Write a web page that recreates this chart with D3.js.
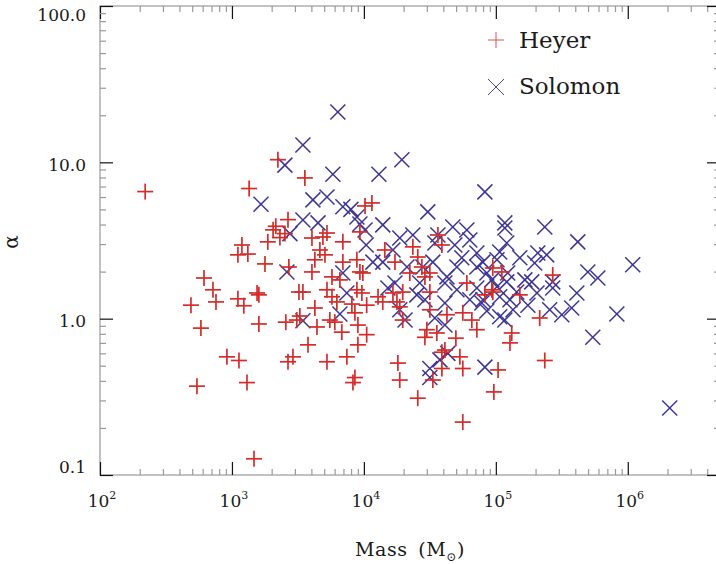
<!DOCTYPE html>
<html>
<head>
<meta charset="utf-8">
<script src="https://cdnjs.cloudflare.com/ajax/libs/d3/7.8.5/d3.min.js"></script>
<style>
body{margin:0;background:#fff;}
text{font-family:"DejaVu Serif",serif;fill:#1a1a1a;}
</style>
</head>
<body>
<script>
// values
let heyerMass = [220,2230,1350,2660,2150,2050,2520,1870,2310,1190,1110,1320,1780,2700,614,718,757,489,1110,1230,
    1550,1600,1600,582,2560,3100,3220,916,1130,2660,2900,543,1300,1470,3570,10200,11500,9330,4040,5250,
    4890,6930,4640,5070,4250,6930,8850,9330,9820,4040,5730,6580,3450,5250,5730,8850,9660,10500,12800,13900,
    16600,17800,19700,14400,17200,23500,25600,27500,29000,31600,36400,39000,22300,31600,31600,42600,60300,56200,94800,4250,
    3270,8550,18700,6240,8110,4410,5520,6020,6800,9010,10500,9010,3770,5250,7430,8550,8260,18100,18700,25600,
    56200,19700,65800,71800,30000,35700,29000,49800,39000,41100,53400,39000,56200,33300,96600,104000,94800,111000,270000,93300,
    152000,82600,215000,132000,128000,235000],
    heyerAlpha = [6.5,10.4,6.8,4.3,3.9,3.7,3.5,3.1,3.3,2.96,2.56,2.59,2.24,2.14,1.82,1.53,1.28,1.22,1.34,1.21,
    1.46,1.42,0.925,0.87,0.95,0.98,1.48,0.57,0.54,0.53,0.57,0.37,0.39,0.127,7.95,5.26,5.5,3.59,3.28,3.53,
    3.33,3.1,2.75,2.56,2.38,2.3,2.38,1.99,1.96,1.99,1.85,1.77,1.48,1.53,1.38,1.53,1.46,1.22,1.38,1.28,
    1.46,1.28,1.48,2.75,2.3,2.88,2.48,2.14,1.85,1.96,3.43,2.96,1.96,1.48,1.14,1.06,1.69,1.09,1.48,1.17,
    1.04,1.09,1.19,1.28,1.24,0.885,0.98,0.95,0.82,0.91,0.79,0.68,0.68,0.53,0.57,0.42,0.39,0.52,0.405,0.31,
    0.218,0.98,0.98,0.85,0.85,0.81,0.76,0.75,0.61,0.63,0.57,0.48,0.48,0.405,0.34,0.47,2.11,1.99,1.9,1.53,
    1.42,1.42,1.01,0.81,0.7,0.54];

let solomonMass = [2520,1660,2750,2610,6350,3450,5820,13000,19400,4110,5250,6930,7970,8850,10200,9330,30500,3450,4490,13900,
    47200,60300,63500,36400,18700,23500,34500,13900,16600,21200,28000,42600,50700,71800,85500,102000,6930,7430,25200,41100,
    50700,71800,79800,102000,6580,18700,85500,82600,3450,20500,41100,41100,78300,31600,31600,37700,43300,82600,107000,117000,
    117000,235000,418000,1090000,498000,593000,411000,121000,107000,152000,208000,243000,197000,79800,123000,121000,187000,270000,270000,205000,
    144000,107000,135000,117000,256000,316000,376000,826000,543000,2080000,11700,15200,29000,33300,55200,71800,93300,128000,166000,175000,
    10400,48900,26500,17200,34500,63500],
    solomonAlpha = [9.6,5.4,3.5,1.99,21,12.9,8.4,8.4,10.4,5.75,6.0,5.2,5.0,4.47,3.69,4.03,4.82,4.28,4.1,3.98,
    3.86,3.69,3.19,3.43,3.28,3.43,3.05,2.3,2.75,2.14,2.14,1.85,2.14,2.14,1.96,2.38,1.96,1.46,1.42,1.69,
    1.53,1.57,1.32,1.6,1.07,1.14,1.12,6.47,0.97,0.98,1.26,0.91,1.26,0.48,0.42,0.545,0.6,0.49,1.03,4.1,
    3.8,3.86,3.1,2.21,1.99,1.82,1.46,3.05,2.67,2.45,2.63,2.56,2.27,2.3,1.96,1.72,1.72,1.72,1.57,1.46,
    1.48,1.38,1.14,0.98,1.14,1.06,1.17,1.07,0.76,0.268,2.3,1.57,1.32,2.3,2.45,2.63,1.77,1.32,1.77,1.22,
    2.96,2.96,1.69,1.69,1.01,1.32];

let massTicks = [1e2,1e3,1e4,1e5,1e6],
    massExp = ['2','3','4','5','6'],
    alphaTicks = [0.1,1,10,100],
    alphaLabels = ['0.1','1.0','10.0','100.0'];

let w = 716, h = 564;
let pLeft = 100, pRight = 720, pTop = 6, pBottom = 475;
let red = '#d42c2a', blue = '#3d3594';

let svg = d3.select('body')
  .append('svg')
  .attr('width',w)
  .attr('height',h);

let x = d3.scaleLog().domain([1e2,5e6]).range([pLeft,pRight]);
let y = d3.scaleLog().domain([0.1,100]).range([pBottom,pTop]);

let xMinor = x.ticks().filter(v=>!massTicks.includes(v));
let yMinor = y.ticks().filter(v=>!alphaTicks.some(t=>Math.abs(t-v)<1e-9));

// frame
svg.append('rect')
  .attr('x',pLeft).attr('y',pTop)
  .attr('width',pRight-pLeft).attr('height',pBottom-pTop)
  .attr('fill','none')
  .attr('stroke','#9a9a9a')
  .attr('stroke-width',1.2);

let tickAxis = (gen,pos,vals,size,col)=>{
    let g = svg.append('g')
      .attr('transform',pos)
      .call(gen.tickValues(vals).tickSize(size).tickSizeOuter(0).tickFormat(''));
    g.select('.domain').remove();
    g.selectAll('line').attr('stroke',col).attr('stroke-width',1.2);
};

tickAxis(d3.axisBottom(x),`translate(0,${pBottom})`,massTicks,-13,'#111');
tickAxis(d3.axisBottom(x),`translate(0,${pBottom})`,xMinor,-6,'#999');
tickAxis(d3.axisTop(x),`translate(0,${pTop})`,massTicks,-13,'#111');
tickAxis(d3.axisTop(x),`translate(0,${pTop})`,xMinor,-6,'#999');
tickAxis(d3.axisLeft(y),`translate(${pLeft},0)`,alphaTicks,-13,'#111');
tickAxis(d3.axisLeft(y),`translate(${pLeft},0)`,yMinor,-6,'#999');
tickAxis(d3.axisRight(y),`translate(${pRight},0)`,alphaTicks,-13,'#111');
tickAxis(d3.axisRight(y),`translate(${pRight},0)`,yMinor,-6,'#999');

// tick labels
svg.selectAll('.ylab')
  .data(alphaTicks)
  .enter()
  .append('text')
  .attr('x',86)
  .attr('y',d=>Math.min(Math.max(y(d)+8.5,21),473))
  .attr('text-anchor','end')
  .style('font-size','17px')
  .text((d,i)=>alphaLabels[i]);

let xl = svg.selectAll('.xlab')
  .data(massTicks)
  .enter()
  .append('text')
  .attr('x',d=>x(d)+2)
  .attr('y',507)
  .attr('text-anchor','middle')
  .style('font-size','17px');
xl.append('tspan').text('10');
xl.append('tspan').attr('dy',-8).style('font-size','11px').text((d,i)=>massExp[i]);

// axis titles
let xt = svg.append('text')
  .attr('x',410).attr('y',556)
  .attr('text-anchor','middle')
  .style('font-size','19px')
  .style('letter-spacing','0.6px')
  .style('word-spacing','4px');
xt.append('tspan').text('Mass (M');
xt.append('tspan').attr('dy',5).style('font-size','12px').text('\u2299');
xt.append('tspan').attr('dy',-5).text(')');

svg.append('text')
  .attr('transform','translate(18,242) rotate(-90)')
  .attr('text-anchor','middle')
  .style('font-size','20px')
  .text('\u03b1');

// markers
let cross = (g,cx,cy,r,col,sw)=>{
    g.append('line').attr('x1',cx-r).attr('x2',cx+r).attr('y1',cy-r).attr('y2',cy+r)
      .attr('stroke',col).attr('stroke-width',sw);
    g.append('line').attr('x1',cx-r).attr('x2',cx+r).attr('y1',cy+r).attr('y2',cy-r)
      .attr('stroke',col).attr('stroke-width',sw);
};
let plus = (g,cx,cy,r,col,sw)=>{
    g.append('line').attr('x1',cx-r).attr('x2',cx+r).attr('y1',cy).attr('y2',cy)
      .attr('stroke',col).attr('stroke-width',sw);
    g.append('line').attr('x1',cx).attr('x2',cx).attr('y1',cy-r).attr('y2',cy+r)
      .attr('stroke',col).attr('stroke-width',sw);
};

let sg = svg.append('g').attr('class','solomon');
solomonMass.forEach((m,i)=>cross(sg,x(m),y(solomonAlpha[i]),7.5,blue,1.5));

let hg = svg.append('g').attr('class','heyer');
heyerMass.forEach((m,i)=>plus(hg,x(m),y(heyerAlpha[i]),8,red,1.7));

// legend
let lg = svg.append('g');
plus(lg,496,40,8,'#e05050',1);
cross(lg,496,87,8,'#4a44a0',1);
lg.append('text').attr('x',519).attr('y',48).style('font-size','23px').text('Heyer');
lg.append('text').attr('x',519).attr('y',94).style('font-size','23px').text('Solomon');
</script>
</body>
</html>
